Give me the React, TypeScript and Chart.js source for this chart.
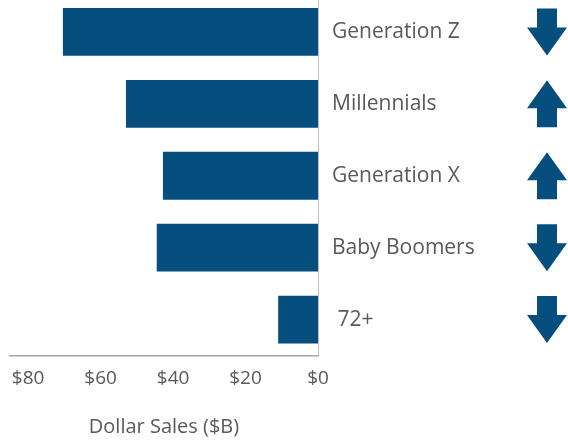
import React, { useEffect, useRef } from "react";
import { Chart, registerables } from "chart.js";

Chart.register(...registerables);

const categories = ["Generation Z", "Millennials", "Generation X", "Baby Boomers", " 72+"];
const salesValues = [70.4, 53.0, 42.8, 44.5, 11.0];
const trends = ["down", "up", "up", "down", "down"];
const tickValues = [0, 20, 40, 60, 80];
const axisTitle = "Dollar Sales ($B)";

const BLUE = "#064e7e";
const TEXT = "#595959";
const FONT = "'Open Sans', 'Noto Sans', sans-serif";

const arrowPlugin = {
  id: "trendArrows",
  afterDatasetsDraw(chart: any) {
    const { ctx } = chart;
    const y = chart.scales.y;
    const cx = 547;
    const h = 47;
    const headW = 40;
    const shaftW = 20;
    const headL = 28;
    ctx.save();
    ctx.fillStyle = BLUE;
    trends.forEach((t, i) => {
      const cy = y.getPixelForValue(i);
      const top = cy - h / 2;
      const bot = cy + h / 2;
      ctx.beginPath();
      if (t === "down") {
        ctx.moveTo(cx - shaftW / 2, top);
        ctx.lineTo(cx + shaftW / 2, top);
        ctx.lineTo(cx + shaftW / 2, bot - headL);
        ctx.lineTo(cx + headW / 2, bot - headL);
        ctx.lineTo(cx, bot);
        ctx.lineTo(cx - headW / 2, bot - headL);
        ctx.lineTo(cx - shaftW / 2, bot - headL);
      } else {
        ctx.moveTo(cx - shaftW / 2, bot);
        ctx.lineTo(cx + shaftW / 2, bot);
        ctx.lineTo(cx + shaftW / 2, top + headL);
        ctx.lineTo(cx + headW / 2, top + headL);
        ctx.lineTo(cx, top);
        ctx.lineTo(cx - headW / 2, top + headL);
        ctx.lineTo(cx - shaftW / 2, top + headL);
      }
      ctx.closePath();
      ctx.fill();
    });
    ctx.restore();
  },
};

export default function App() {
  const ref = useRef<HTMLCanvasElement | null>(null);

  useEffect(() => {
    if (!ref.current) return;
    const chart = new Chart(ref.current, {
      type: "bar",
      data: {
        labels: categories,
        datasets: [
          {
            data: salesValues,
            backgroundColor: BLUE,
            borderWidth: 0,
            barPercentage: 0.665,
            categoryPercentage: 1,
          },
        ],
      },
      options: {
        indexAxis: "y",
        animation: false,
        responsive: false,
        maintainAspectRatio: false,
        layout: { padding: { left: 10, right: 0, top: 0, bottom: 0 } },
        plugins: { legend: { display: false }, tooltip: { enabled: false } },
        scales: {
          x: {
            type: "linear",
            reverse: true,
            min: 0,
            max: 85,
            afterBuildTicks: (axis: any) => {
              axis.ticks = tickValues.map((v) => ({ value: v }));
            },
            afterFit: (scale: any) => {
              scale.height = 86.5;
              scale.paddingLeft = 0;
              scale.paddingRight = 0;
            },
            grid: { display: false, drawTicks: false },
            border: { display: true, color: "#a6a6a6", width: 1.5 },
            ticks: {
              padding: 12,
              color: TEXT,
              font: { family: FONT, size: 19 },
              callback: (v: any) => "$" + v,
              maxRotation: 0,
              autoSkip: false,
            },
            title: {
              display: true,
              text: axisTitle,
              color: TEXT,
              font: { family: FONT, size: 20 },
              padding: { top: 0, bottom: 3 },
            },
          },
          y: {
            position: "right",
            afterFit: (scale: any) => {
              scale.width = 250;
              scale.paddingTop = 0;
              scale.paddingBottom = 0;
            },
            grid: { display: false, drawTicks: false },
            border: { display: true, color: "#bfbfbf", width: 1 },
            ticks: {
              padding: 14,
              color: TEXT,
              font: { family: FONT, size: 21 },
            },
          },
        },
      },
      plugins: [arrowPlugin],
    });
    return () => chart.destroy();
  }, []);

  return (
    <div style={{ position: "absolute", left: 0, top: -4, width: 568, height: 446 }}>
      <canvas ref={ref} width={568} height={446} style={{ display: "block" }} />
    </div>
  );
}
